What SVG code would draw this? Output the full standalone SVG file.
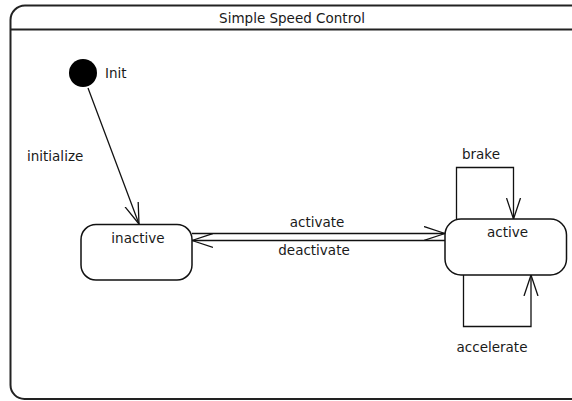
<svg xmlns="http://www.w3.org/2000/svg" width="572" height="401" viewBox="0 0 572 401">
  <style>
    text { font-family: "DejaVu Sans", "Liberation Sans", sans-serif; font-size: 13.5px; fill: #1a1a1a; }
    .mid { text-anchor: middle; }
    .frame { fill: none; stroke: #222; stroke-width: 2; }
    .state { fill: #fff; stroke: #111; stroke-width: 1.5; }
    .edge { fill: none; stroke: #111; stroke-width: 1.3; }
  </style>
  <defs>
    <marker id="arrow" markerUnits="userSpaceOnUse" viewBox="0 0 22 16" markerWidth="22" markerHeight="16" refX="21" refY="8" orient="auto">
      <path d="M0,1 L21,8 L0,15" fill="none" stroke="#111" stroke-width="1.3"/>
    </marker>
  </defs>
  <rect width="572" height="401" fill="#fff"/>
  <g id="frame">
    <path class="frame" d="M572,5.5 H25 A14.5,14.5 0 0 0 10.5,20 V385 A14,14 0 0 0 24.5,399 H572"/>
    <line class="frame" x1="10.5" y1="29.5" x2="572" y2="29.5"/>
    <text class="mid" x="292" y="23">Simple Speed Control</text>
  </g>
  <g id="connectors">
    <g id="t-initialize">
      <line class="edge" x1="88" y1="88" x2="139" y2="224" marker-end="url(#arrow)"/>
      <text x="27" y="160.5">initialize</text>
    </g>
    <g id="t-activate">
      <line class="edge" x1="192" y1="233.5" x2="445" y2="233.5" marker-end="url(#arrow)"/>
      <text class="mid" x="317" y="226.5">activate</text>
    </g>
    <g id="t-deactivate">
      <line class="edge" x1="445" y1="240.5" x2="192" y2="240.5" marker-end="url(#arrow)"/>
      <text class="mid" x="314" y="255">deactivate</text>
    </g>
    <g id="t-brake">
      <path class="edge" d="M456.5,219 V167.5 H513.5 V219" marker-end="url(#arrow)"/>
      <text class="mid" x="481" y="158.5">brake</text>
    </g>
    <g id="t-accelerate">
      <path class="edge" d="M463.5,275 V326.5 H531 V275" marker-end="url(#arrow)"/>
      <text class="mid" x="492" y="351.5">accelerate</text>
    </g>
  </g>
  <g id="init">
    <circle cx="83" cy="73" r="14" fill="#000"/>
    <text x="105" y="78">Init</text>
  </g>
  <g id="inactive">
    <rect class="state" x="81" y="224.5" width="111" height="55.5" rx="15" ry="15"/>
    <text class="mid" x="138" y="242.5">inactive</text>
  </g>
  <g id="active">
    <rect class="state" x="445" y="219" width="121.5" height="56" rx="16" ry="16"/>
    <text class="mid" x="507.5" y="236.5">active</text>
  </g>
</svg>
